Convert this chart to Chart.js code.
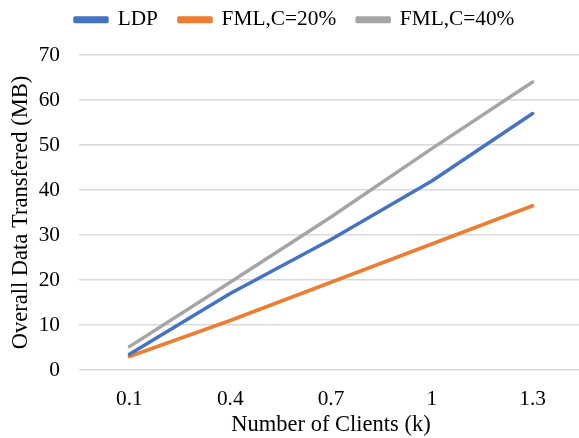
<!DOCTYPE html>
<html>
<head>
<meta charset="utf-8">
<script src="https://cdn.jsdelivr.net/npm/chart.js@4/dist/chart.umd.min.js"></script>
<style>
html,body{margin:0;padding:0;background:#fff;overflow:hidden;width:579px;height:438px;}
canvas{display:block;}
</style>
</head>
<body>
<canvas id="c" width="583" height="438"></canvas>
<script>
const categories = ['0.1', '0.4', '0.7', '1', '1.3'];
const ldp = [3.5, 17, 29, 42, 57];
const fml20 = [3, 11, 19.5, 28, 36.5];
const fml40 = [5.2, 19.5, 34, 49.2, 64];
const yTicks = [0, 10, 20, 30, 40, 50, 60, 70];

const FONT = 'Liberation Serif, Times New Roman, serif';
const TICK = 21.33, TITLE = 22.5;
function ds(label, data, color) {
  return {label, data, borderColor: color, backgroundColor: color, borderWidth: 3.5,
    pointRadius: 0, tension: 0, borderCapStyle: 'round', borderJoinStyle: 'round'};
}
const legendTweak = {
  id: 'legendTweak',
  beforeLayout(chart) {
    const lg = chart.legend;
    if (lg && !lg._patched) {
      const orig = lg.fit;
      lg.fit = function () { orig.call(this); this.height = 55; };
      lg._patched = true;
    }
  },
  afterLayout(chart) {
    const lg = chart.legend;
    if (!lg) return;
    const w = lg.right - lg.left;
    lg.left = 54; lg.right = 54 + w;
    lg.top = -12; lg.bottom = lg.top + lg.height;
  }
};
new Chart(document.getElementById('c'), {
  type: 'line',
  data: {
    labels: categories,
    datasets: [
      ds('LDP', ldp, '#4472C4'),
      ds('FML,C=20%', fml20, '#ED7D31'),
      ds('FML,C=40%', fml40, '#A5A5A5')
    ]
  },
  plugins: [legendTweak],
  options: {
    responsive: false,
    animation: false,
    layout: {padding: {top: 0, left: 0, right: 0, bottom: 0}},
    plugins: {
      legend: {
        position: 'top',
        align: 'start',
        labels: {
          font: {family: FONT, size: TICK},
          color: '#000',
          boxWidth: 32,
          boxHeight: 3.5,
          padding: 21
        }
      },
      tooltip: {enabled: false}
    },
    scales: {
      x: {
        offset: true,
        grid: {display: false, drawTicks: false},
        border: {display: false},
        ticks: {font: {family: FONT, size: TICK}, color: '#000', padding: 16.2, maxRotation: 0},
        title: {display: true, text: 'Number of Clients (k)', font: {family: FONT, size: TITLE}, color: '#000', padding: {top: -16.5, bottom: -0.5}}
      },
      y: {
        min: 0, max: 70,
        afterBuildTicks: (axis) => { axis.ticks = yTicks.map(v => ({value: v})); },
        grid: {color: '#D9D9D9', lineWidth: 1.5, drawTicks: false},
        border: {display: false},
        ticks: {font: {family: FONT, size: TICK}, color: '#000', padding: 19},
        title: {display: true, text: 'Overall Data Transfered (MB)', font: {family: FONT, size: TITLE}, color: '#000', padding: {top: 7.5, bottom: -14.8}}
      }
    }
  }
});
</script>
</body>
</html>
